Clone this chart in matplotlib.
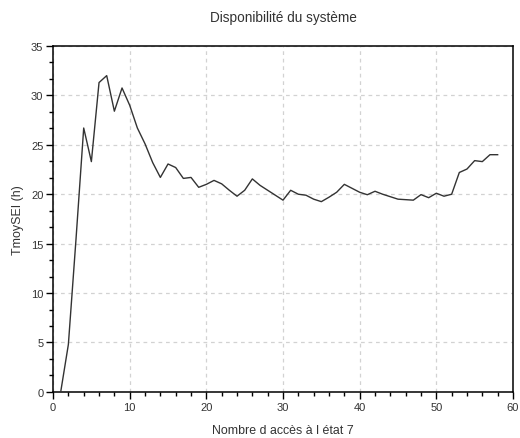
import numpy as np
import matplotlib
matplotlib.use("Agg")
import matplotlib.pyplot as plt
from matplotlib.ticker import MultipleLocator

# number of visits to state 7
acces = list(range(1, 59))
# mean time TmoySEI (h)
tmoy = [0.0, 4.8, 15.5, 26.7, 23.3, 31.3, 32.0, 28.4, 30.75, 29.0,
        26.7, 25.1, 23.2, 21.7, 23.06, 22.7, 21.6, 21.7, 20.7, 21.0,
        21.4, 21.05, 20.4, 19.8, 20.4, 21.55, 20.9, 20.4, 19.9, 19.4,
        20.4, 20.0, 19.9, 19.5, 19.25, 19.7, 20.2, 21.0, 20.6, 20.2,
        19.95, 20.3, 20.0, 19.75, 19.5, 19.45, 19.4, 19.96, 19.65, 20.1,
        19.8, 20.0, 22.2, 22.55, 23.4, 23.3, 24.0, 24.0]

plt.rcParams['font.family'] = ['Liberation Sans', 'DejaVu Sans']
txt = '#333333'

fig = plt.figure(figsize=(5.2, 4.39), dpi=100)
ax = fig.add_axes([0.102, 0.105, 0.8845, 0.788])

ax.plot(acces, tmoy, color='#333333', lw=1.0, zorder=3)

ax.set_xlim(0, 60)
ax.set_ylim(0, 35)
ax.xaxis.set_major_locator(MultipleLocator(10))
ax.xaxis.set_minor_locator(MultipleLocator(2))
ax.yaxis.set_major_locator(MultipleLocator(5))
ax.yaxis.set_minor_locator(MultipleLocator(5 / 3))

ax.grid(True, which='major', color='#d2d2d2', linestyle=(0, (3, 3)), lw=0.9)
ax.set_axisbelow(True)

ax.tick_params(which='major', direction='out', length=5, width=1, colors='black',
               labelcolor=txt, labelsize=8, pad=2)
ax.tick_params(which='minor', direction='out', length=3, width=1, colors='black')
for s in ax.spines.values():
    s.set_linewidth(1.1)

ax.set_title('Disponibilité du système', fontsize=9.8, color=txt, pad=18)
ax.set_xlabel('Nombre d accès à l état 7', fontsize=8.9, color=txt, labelpad=9)
ax.set_ylabel('TmoySEI (h)', fontsize=8.9, color=txt, labelpad=5)

fig.savefig('out.png', dpi=100)
